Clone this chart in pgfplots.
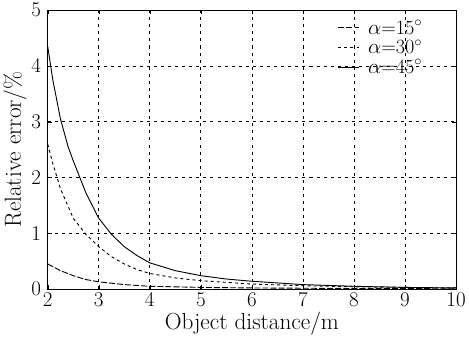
\documentclass[border=0pt]{standalone}
\usepackage{pgfplots}
\pgfplotsset{compat=1.18}
\begin{document}
\begin{tikzpicture}
\begin{axis}[
  scale only axis,
  width=404pt, height=276pt,
  xmin=2, xmax=10, ymin=0, ymax=5,
  xtick={2,3,4,5,6,7,8,9,10},
  ytick={0,1,2,3,4,5},
  tick align=inside,
  grid=major,
  major grid style={black, dash pattern=on 3pt off 4pt, line width=0.7pt},
  axis line style={black, line width=1pt},
  tick style={black},
  tick label style={font=\fontsize{20}{22}\selectfont},
  yticklabel style={xshift=-3pt},
  label style={font=\fontsize{23}{25}\selectfont},
  xlabel={Object distance/m},
  ylabel={Relative error/\%},
  xlabel style={yshift=1pt},
  ylabel style={yshift=-2pt},
  legend style={draw=none, fill=white, fill opacity=0, text opacity=1, at={(0.93,0.98)}, anchor=north east, font=\fontsize{20}{22}\selectfont, row sep=0pt},
  legend image code/.code={\draw[#1] (0pt,0pt) -- (20pt,0pt); \path (27pt,0pt);},
  legend cell align=left,
]
\addplot[black, line width=0.9pt, dash pattern=on 6pt off 2pt] coordinates {
(2,0.45) (2.25,0.33) (2.5,0.24) (2.75,0.17) (3,0.13) (3.5,0.08) (4,0.05) (4.5,0.04) (5,0.03) (6,0.02) (7,0.015) (8,0.01) (9,0.008) (10,0.005)
};
\addlegendentry{$\alpha$=15$^\circ$}
\addplot[black, line width=0.9pt, dash pattern=on 3pt off 3pt] coordinates {
(2,2.6) (2.1,2.25) (2.25,1.8) (2.5,1.27) (2.75,0.98) (3,0.76) (3.25,0.58) (3.5,0.45) (3.75,0.35) (4,0.28) (4.5,0.2) (5,0.15) (5.5,0.12) (6,0.09) (7,0.06) (8,0.04) (9,0.03) (10,0.02)
};
\addlegendentry{$\alpha$=30$^\circ$}
\addplot[black, line width=0.9pt] coordinates {
(2,4.35) (2.1,3.75) (2.25,3.05) (2.4,2.55) (2.5,2.3) (2.75,1.72) (3,1.27) (3.25,0.98) (3.5,0.76) (3.75,0.6) (4,0.47) (4.5,0.33) (5,0.24) (5.5,0.18) (6,0.14) (7,0.08) (8,0.05) (9,0.03) (10,0.02)
};
\addlegendentry{$\alpha$=45$^\circ$}
\end{axis}
\end{tikzpicture}
\end{document}
